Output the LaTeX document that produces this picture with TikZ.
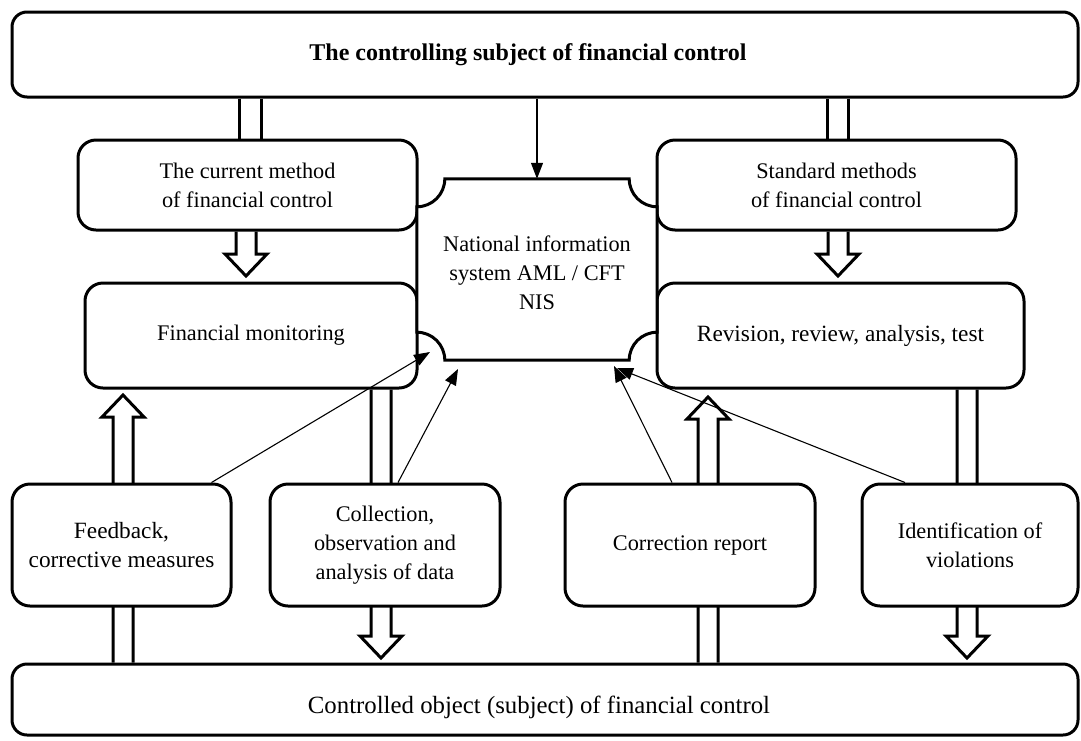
\documentclass[tikz,border=0pt]{standalone}
\usepackage{fontspec}
\setmainfont{Liberation Serif}
\usetikzlibrary{arrows.meta,backgrounds,calc}
\newcommand\myfs{\fontsize{22.3pt}{29pt}\selectfont}
\newcommand\hollowarrow[2]{%
  \draw[harr] let \p1=(#1), \p2=(#2), \p3=($(#2)!22pt!(#1)$) in
   (\x2-10pt,\y1) -- (\x2-10pt,\y3) -- (\x2-21pt,\y3) -- (\x2,\y2) -- (\x2+21pt,\y3) -- (\x2+10pt,\y3) -- (\x2+10pt,\y1);}
\newcommand\twolines[3]{%
  \draw[dbl] let \p1=(#1), \p2=(#2) in (\x1-#3,\y1) -- (\x1-#3,\y2) (\x1+#3,\y1) -- (\x1+#3,\y2);}
\begin{document}
\begin{tikzpicture}[x=1pt,y=-1pt,
  box/.style={draw, line width=3pt, rounded corners=18pt, fill=white, inner sep=0pt, align=center, font=\myfs},
  bigbox/.style={box, rounded corners=15pt},
  harr/.style={draw, line width=3pt, fill=white, line join=miter},
  dbl/.style={line width=3pt},
  thinarr/.style={line width=1.1pt, -{Triangle[length=16pt,width=12pt]}},
  lbl/.style={font=\myfs, align=center, inner sep=0pt}]
\useasboundingbox (0,0) rectangle (1081,740);

\node[bigbox, minimum width=1066pt, minimum height=85pt] (top) at (545,54.5) {};
\node[lbl, font=\fontsize{24pt}{29pt}\selectfont\bfseries] (toptext) at (528,55) {The controlling subject of financial control};
\node[bigbox, minimum width=1066pt, minimum height=71pt] (bot) at (545,699.5) {};
\node[lbl, font=\fontsize{24.8pt}{29pt}\selectfont] (bottext) at (539,707) {Controlled object (subject) of financial control};

\node[box, minimum width=339pt, minimum height=90pt] (cur) at (247.5,185) {The current method\\of financial control};
\node[box, minimum width=332pt, minimum height=105pt] (fm) at (251,335.5) {Financial monitoring};
\node[box, minimum width=359pt, minimum height=90pt] (std) at (836.5,185) {Standard methods\\of financial control};
\node[box, minimum width=367pt, minimum height=105pt, font=\fontsize{23.3pt}{29pt}\selectfont] (rev) at (840.5,335.5) {Revision, review, analysis, test};
\node[box, minimum width=219pt, minimum height=122pt, font=\fontsize{23.3pt}{29pt}\selectfont] (fb) at (121.5,545) {Feedback,\\corrective measures};
\node[box, minimum width=230pt, minimum height=122pt] (col) at (385,545) {Collection,\\observation and\\analysis of data};
\node[box, minimum width=250pt, minimum height=122pt] (cor) at (690,545) {Correction report};
\node[box, minimum width=216pt, minimum height=122pt] (idv) at (970,545) {Identification of\\violations};

\node[minimum width=240pt, minimum height=181pt, inner sep=0pt] (nis) at (537,269.5) {};
\draw[line width=3pt, fill=white]
  ([xshift=28pt]nis.north west) -- ([xshift=-28pt]nis.north east)
  arc[start angle=180,end angle=270,radius=28pt]
  -- ([yshift=28pt]nis.south east)
  arc[start angle=90,end angle=180,radius=28pt]
  -- ([xshift=28pt]nis.south west)
  arc[start angle=0,end angle=90,radius=28pt]
  -- ([yshift=-28pt]nis.north west)
  arc[start angle=-90,end angle=0,radius=28pt]
  -- cycle;
\node[lbl] (nistext) at ([yshift=-3pt]nis.center) {National information\\system AML / CFT\\NIS};

\begin{pgfonlayer}{background}
  \coordinate (d1) at (250,120);
  \coordinate (d2) at (837.5,120);
  \twolines{top.south -| d1}{cur.north -| d1}{11pt}
  \twolines{top.south -| d2}{std.north -| d2}{10.5pt}
  \coordinate (h3) at (246,276);
  \coordinate (h4) at (838,276);
  \coordinate (h5) at (123,395);
  \coordinate (h6) at (381,658);
  \coordinate (h7) at (708,397);
  \coordinate (h8) at (967,658);
  \hollowarrow{cur.south -| h3}{h3}
  \hollowarrow{std.south -| h4}{h4}
  \hollowarrow{bot.north -| h5}{h5}
  \hollowarrow{fm.south -| h6}{h6}
  \hollowarrow{bot.north -| h7}{h7}
  \hollowarrow{rev.south -| h8}{h8}
\end{pgfonlayer}

\coordinate (t1) at (430,352);
\coordinate (t2) at (458,369);
\coordinate (t3) at (614,366);
\coordinate (t4) at (617,368);
\draw[thinarr] (top.south -| nis.north) -- (nis.north);
\draw[thinarr] ([xshift=-21pt]fb.north east) -- (t1);
\draw[thinarr] ([xshift=13pt]col.north) -- (t2);
\draw[thinarr] ([xshift=-18pt]cor.north) -- (t3);
\draw[thinarr] ([xshift=-65pt]idv.north) -- (t4);
\end{tikzpicture}
\end{document}
